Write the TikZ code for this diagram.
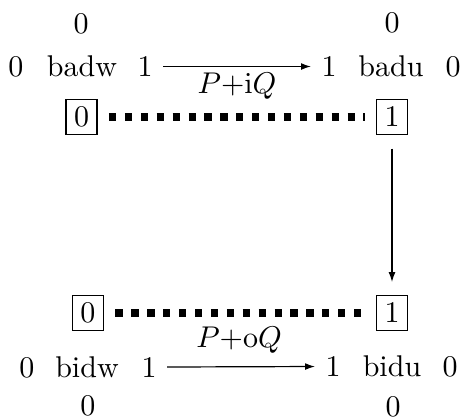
\documentclass[tikz,border=0pt]{standalone}
\usetikzlibrary{arrows.meta}
\begin{document}
\begin{tikzpicture}[x=0.3333pt,y=-0.3333pt,
  txt/.style={anchor=base, inner sep=3.33pt},
  boxnode/.style={draw, line width=0.4pt, inner sep=0pt, minimum width=10.33pt, minimum height=11.67pt},
  fat dots/.style={line width=2.4pt, dash pattern=on 2.4pt off 2.9pt, shorten >=3.8pt, shorten <=3.8pt},
  arr/.style={-{Latex[length=3.3pt,width=2.3pt]}, line width=0.4pt}]
\useasboundingbox (0,0) rectangle (463,419);
% top row
\node[txt] (t0a) at (81,33) {0};
\node[txt] (l0a) at (16,76.5) {0};
\node[txt] (badw) at (82,76.5) {badw};
\node[txt] (r1a) at (145,76.5) {1};
\node[txt] (l1b) at (329,76.5) {1};
\node[txt] (badu) at (391,76.5) {badu};
\node[txt] (r0b) at (453,76.5) {0};
\node[txt] (t0b) at (392,32) {0};
\node[txt] (lab1) at (237,93) {$P{+}\mathrm{i}Q$};
\draw[arr] (r1a.east) -- (l1b.west);
% boxes
\node[boxnode] (b0a) at (81.5,117) {0};
\node[boxnode] (b1a) at (392,117) {1};
\node[boxnode] (b0b) at (88,313) {0};
\node[boxnode] (b1b) at (392,313) {1};
\draw[fat dots] (b0a.east) -- (b1a.west);
\draw[fat dots] (b0b.east) -- (b1b.west);
\draw[arr, shorten <=4.5pt, shorten >=4.3pt] (b1a.south) -- (b1b.north);
% bottom row
\node[txt] (lab2) at (239,347) {$P{+}\mathrm{o}Q$};
\node[txt] (l0c) at (27,377) {0};
\node[txt] (bidw) at (87,377) {bidw};
\node[txt] (r1c) at (149,377) {1};
\node[txt] (l1d) at (333,376.5) {1};
\node[txt] (bidu) at (392,376.5) {bidu};
\node[txt] (r0d) at (450,376.5) {0};
\node[txt] (d0c) at (88,415.5) {0};
\node[txt] (d0d) at (393,416) {0};
\draw[arr] (r1c.east) -- (l1d.west);
\end{tikzpicture}
\end{document}
